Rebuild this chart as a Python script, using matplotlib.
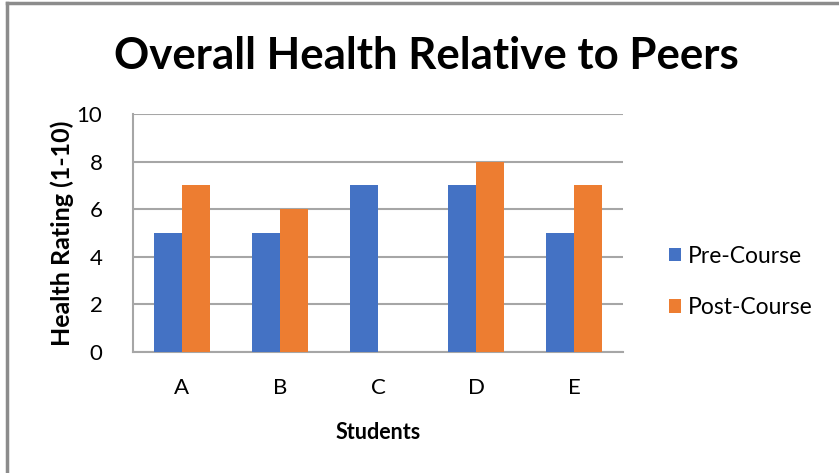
import matplotlib
matplotlib.use("Agg")
import matplotlib.pyplot as plt
import numpy as np
from matplotlib.lines import Line2D

students = ["A", "B", "C", "D", "E"]
pre_course = [5, 5, 7, 7, 5]
post_course = [7, 6, 0, 8, 7]
y_ticks = [0, 2, 4, 6, 8, 10]

plt.rcParams['font.family'] = ['Lato', 'DejaVu Sans']

fig = plt.figure(figsize=(8.39, 4.73), dpi=100)
ax = fig.add_axes([133/839, 1-352/473, (623-133)/839, (352-114)/473])

x = np.arange(len(students))
w = 0.285
ax.bar(x - w/2, pre_course, width=w, color="#4472C4", label="Pre-Course", zorder=3)
ax.bar(x + w/2, post_course, width=w, color="#ED7D31", label="Post-Course", zorder=3)

ax.set_xlim(-0.5, len(students) - 0.5)
ax.set_ylim(0, 10)
ax.set_yticks(y_ticks)
ax.set_xticks(x)
ax.set_xticklabels(students)
ax.tick_params(axis='both', length=0, labelsize=16, colors='#000000')
ax.tick_params(axis='x', pad=19)
ax.tick_params(axis='y', pad=22)
ax.yaxis.grid(True, color='#A6A6A6', linewidth=1.5, zorder=0)
for s in ['top', 'right']:
    ax.spines[s].set_visible(False)
for s in ['left', 'bottom']:
    ax.spines[s].set_color('#A6A6A6')
    ax.spines[s].set_linewidth(1.5)

ax.set_ylabel("Health Rating (1-10)", fontsize=18, fontweight='bold', labelpad=2)
ax.set_xlabel("Students", fontsize=15.5, fontweight='bold', labelpad=17)

fig.text(426/839, 1-56/473, "Overall Health Relative to Peers", fontsize=31.5,
         fontweight='bold', ha='center', va='center')

ax.legend(loc='center left', bbox_to_anchor=(648/839, 1-282/473),
          bbox_transform=fig.transFigure, frameon=False, fontsize=16.5,
          handlelength=0.55, handleheight=0.55, handletextpad=0.3, labelspacing=1.35)

# figure frame (top and left edges visible)
fig.add_artist(Line2D([7/839, 1], [1-3/473, 1-3/473], transform=fig.transFigure,
                      color='#8C8C8C', linewidth=2.5))
fig.add_artist(Line2D([7/839, 7/839], [0, 1-3/473], transform=fig.transFigure,
                      color='#8C8C8C', linewidth=2.5))

fig.savefig("out.png", dpi=100)
